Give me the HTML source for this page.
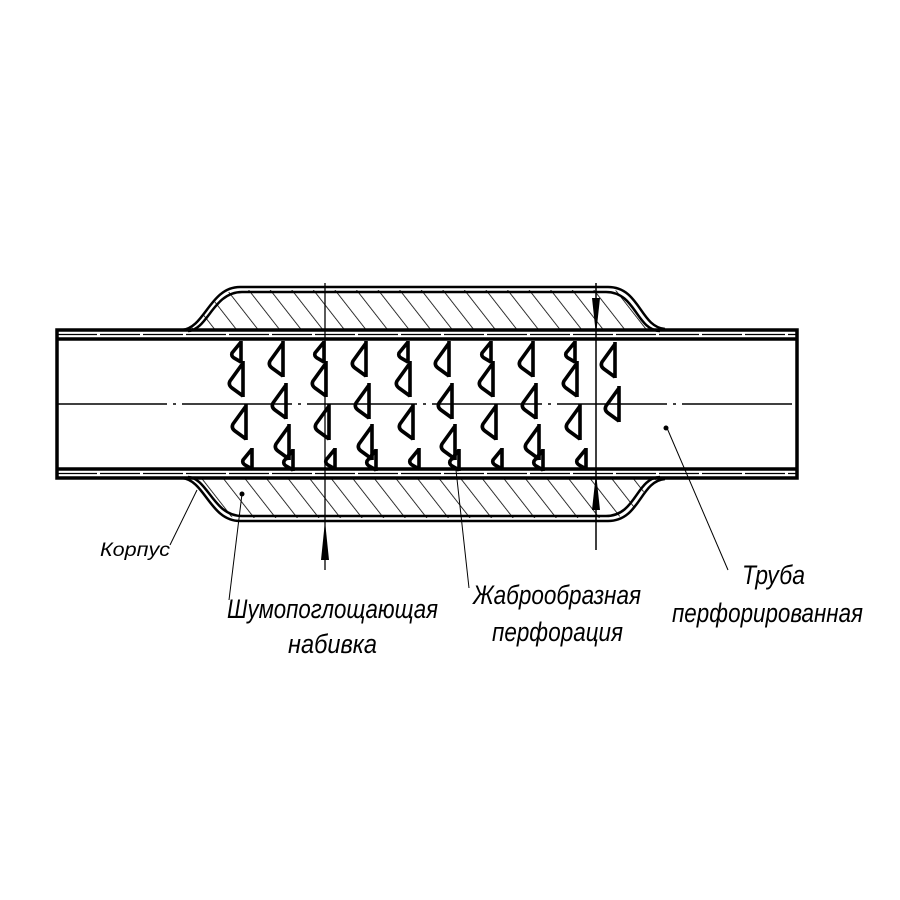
<!DOCTYPE html>
<html><head><meta charset="utf-8"><style>html,body{margin:0;padding:0;background:#fff}svg{display:block}</style></head>
<body>
<svg width="900" height="900" viewBox="0 0 900 900" xmlns="http://www.w3.org/2000/svg">
<defs>
<pattern id="h" patternUnits="userSpaceOnUse" width="17" height="60" patternTransform="rotate(-38)">
<line x1="0" y1="0" x2="0" y2="60" stroke="#000" stroke-width="1.6"/>
</pattern>
<path id="g" d="M0,0 V36 M0,2 L-13,20 Q-15,24 -11,27 L0,35" fill="none" stroke="#000" stroke-width="3.6" stroke-linejoin="round"/>
<path id="s" d="M0,0 V22 M0,1 L-9,12 Q-10,15 -7,17 L0,21" fill="none" stroke="#000" stroke-width="3.6"/>
</defs>
<rect width="900" height="900" fill="#fff"/>
<path d="M185,330 C205,328 210,290 240,290 L610,290 C640,290 640,328 662,330 Z" fill="url(#h)"/>
<path d="M185,478 C205,480 210,518 240,518 L610,518 C640,518 640,480 662,478 Z" fill="url(#h)"/>
<g fill="none" stroke="#000">
<path d="M182,330 C205,328 210,287 240,287 L608,287 C640,287 640,327 665,329" stroke-width="2.5"/>
<path d="M188,331 C208,330 213,292 242,292 L606,292 C636,292 636,330 660,331" stroke-width="2.5"/>
<path d="M182,478 C205,480 210,521 240,521 L608,521 C640,521 640,481 665,479" stroke-width="2.5"/>
<path d="M188,477 C208,478 213,516 242,516 L606,516 C636,516 636,478 660,477" stroke-width="2.5"/>
<rect x="57" y="330" width="740" height="148" stroke-width="3.5"/>
<line x1="57" y1="339" x2="797" y2="339" stroke-width="3.5"/>
<line x1="57" y1="334.5" x2="797" y2="334.5" stroke-width="1.3" stroke-dasharray="40 3"/>
<line x1="57" y1="469" x2="797" y2="469" stroke-width="3.5"/>
<line x1="57" y1="473.5" x2="797" y2="473.5" stroke-width="1.3" stroke-dasharray="40 3"/>
<line x1="57" y1="404" x2="797" y2="404" stroke-width="1.5" stroke-dasharray="110 6 3 6"/>
<line x1="325" y1="283" x2="325" y2="570" stroke-width="1.3"/>
<line x1="596" y1="283" x2="596" y2="550" stroke-width="1.5"/>
<line x1="170" y1="545" x2="197" y2="490" stroke-width="1"/>
<line x1="229" y1="600" x2="242" y2="494" stroke-width="1"/>
<line x1="469" y1="588" x2="456" y2="470" stroke-width="1"/>
<line x1="728" y1="570" x2="667" y2="428" stroke-width="1"/>
</g>
<circle cx="242" cy="494" r="2.5"/>
<circle cx="666" cy="428" r="2.5"/>
<path d="M325,521 L321,560 L329,560 Z"/>
<path d="M596,335 L592,298 L600,298 Z"/>
<path d="M596,473 L592,510 L600,510 Z"/>
<g>
<use href="#s" x="241" y="341"/><use href="#g" x="243" y="361"/><use href="#g" x="246" y="404"/><use href="#s" x="252" y="448"/>
<use href="#s" x="324" y="341"/><use href="#g" x="326" y="361"/><use href="#g" x="329" y="404"/><use href="#s" x="335" y="448"/>
<use href="#s" x="408" y="341"/><use href="#g" x="410" y="361"/><use href="#g" x="413" y="404"/><use href="#s" x="419" y="448"/>
<use href="#s" x="491" y="341"/><use href="#g" x="493" y="361"/><use href="#g" x="496" y="404"/><use href="#s" x="502" y="448"/>
<use href="#s" x="575" y="341"/><use href="#g" x="577" y="361"/><use href="#g" x="580" y="404"/><use href="#s" x="586" y="448"/>
<use href="#g" x="283" y="341"/><use href="#g" x="286" y="383"/><use href="#g" x="289" y="424"/><use href="#s" x="293" y="449"/>
<use href="#g" x="366" y="341"/><use href="#g" x="369" y="383"/><use href="#g" x="372" y="424"/><use href="#s" x="376" y="449"/>
<use href="#g" x="449" y="341"/><use href="#g" x="452" y="383"/><use href="#g" x="455" y="424"/><use href="#s" x="459" y="449"/>
<use href="#g" x="533" y="341"/><use href="#g" x="536" y="383"/><use href="#g" x="539" y="424"/><use href="#s" x="543" y="449"/>
<use href="#g" x="615" y="342"/><use href="#g" x="619" y="386"/>
</g>
<g font-family="'Liberation Sans', sans-serif" font-style="italic" fill="#000">
<text x="100" y="556" font-size="19" textLength="70" lengthAdjust="spacingAndGlyphs">Корпус</text>
<text x="227" y="618" font-size="27" textLength="211" lengthAdjust="spacingAndGlyphs">Шумопоглощающая</text>
<text x="288" y="653" font-size="27" textLength="89" lengthAdjust="spacingAndGlyphs">набивка</text>
<text x="473" y="604" font-size="27" textLength="168" lengthAdjust="spacingAndGlyphs">Жаброобразная</text>
<text x="492" y="641" font-size="27" textLength="131" lengthAdjust="spacingAndGlyphs">перфорация</text>
<text x="742" y="584" font-size="27" textLength="63" lengthAdjust="spacingAndGlyphs">Труба</text>
<text x="672" y="622" font-size="27" textLength="191" lengthAdjust="spacingAndGlyphs">перфорированная</text>
</g>
</svg>
</body></html>
